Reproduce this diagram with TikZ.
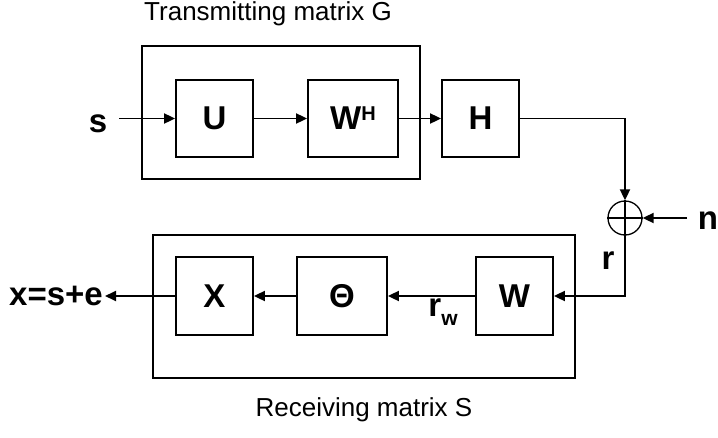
\documentclass[tikz,border=0pt]{standalone}
\usepackage{fontspec}
\setmainfont{Liberation Sans}
\usetikzlibrary{arrows.meta}
\begin{document}
\begin{tikzpicture}[x=1pt,y=-1pt,
  lw/.style={line width=1.8pt},
  blk/.style={draw,lw,inner sep=0pt,minimum height=77pt,font=\bfseries\fontsize{33}{33}\selectfont},
  lbl/.style={inner sep=0pt,font=\bfseries\fontsize{33}{33}\selectfont},
  captxt/.style={inner sep=0pt,font=\fontsize{26}{26}\selectfont},
  arr/.style={lw,-{Triangle[length=11pt,width=10pt]}}]
\useasboundingbox (0,0) rectangle (718,437);
% outer boxes
\draw[lw] (142,46) rectangle (420,179);
\draw[lw] (153,235) rectangle (575,378);
\node[captxt] (tcap) at (268,14) {Transmitting matrix G};
\node[captxt] (rcap) at (364,410) {Receiving matrix S};
% blocks
\node[blk,minimum width=77pt] (U) at (214.5,118.5) {U};
\node[blk,minimum width=90pt] (WH) at (353,118.5) {W\raisebox{9pt}{\fontsize{20}{20}\selectfont H}};
\node[blk,minimum width=77pt] (H) at (480.5,118.5) {H};
\node[blk,minimum width=77pt,minimum height=78pt] (X) at (214.5,296) {X};
\node[blk,minimum width=90pt,minimum height=78pt] (T) at (342,296) {Θ};
\node[blk,minimum width=77pt,minimum height=78pt] (W) at (514.5,296) {W};
% adder
\node[draw,circle,line width=1.3pt,minimum size=34pt,inner sep=0pt] (add) at (625,218) {};
\draw[line width=1.3pt] (add.north) -- (add.south) (add.west) -- (add.east);
% labels
\node[lbl] (s) at (98,124) {s};
\node[lbl] (n) at (708,221) {n};
\node[lbl] (r) at (608,261) {r};
\node[lbl] (rw) at (443,312) {r\raisebox{-9pt}{\fontsize{21}{21}\selectfont w}};
\node[lbl] (x) at (56,296) {x=s+e};
\coordinate (sst) at (119,118.5);
\coordinate (nst) at (687,218);
\coordinate (c1) at (625,118.5);
\coordinate (c2) at (625,296);
% connectors
\draw[arr] (sst) -- (U.west);
\draw[arr] (U.east) -- (WH.west);
\draw[arr] (WH.east) -- (H.west);
\draw[arr] (H.east) -- (c1) -- (add.north);
\draw[arr] (nst) -- (add.east);
\draw[arr] (add.south) -- (c2) -- (W.east);
\draw[arr] (W.west) -- (T.east);
\draw[arr] (T.west) -- (X.east);
\draw[arr,shorten >=2pt] (X.west) -- (x.east);
\end{tikzpicture}
\end{document}
